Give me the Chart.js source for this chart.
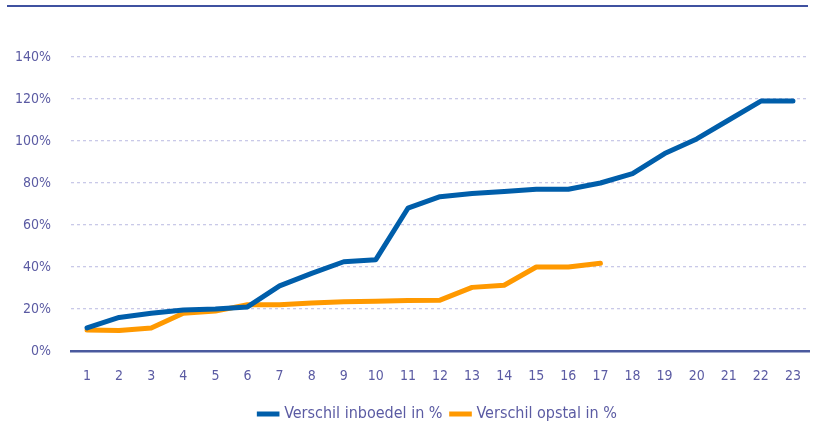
<!DOCTYPE html>
<html>
<head>
<meta charset="utf-8">
<script src="https://cdn.jsdelivr.net/npm/chart.js@4"></script>
<style>
  html, body { margin: 0; padding: 0; background: #fff; }
  #wrap { position: relative; width: 813px; height: 427px; }
  #rule { position: absolute; left: 7px; top: 5px; width: 801px; height: 2px; background: #3f51a0; }
  canvas { position: absolute; left: 0; top: 0; }
</style>
</head>
<body>
<div id="wrap">
  <div id="rule"></div>
  <canvas id="lineChart" width="813" height="427"></canvas>
</div>
<script>
  // data
  const categories = ['1','2','3','4','5','6','7','8','9','10','11','12','13','14','15','16','17','18','19','20','21','22','23'];
  const inboedel = [11, 16, 18, 19.5, 20, 21, 31, 37, 42.5, 43.5, 68, 73.5, 75, 76, 77, 77, 80, 84.5, 94, 101, 110, 119, 119];
  const opstal = [10, 9.8, 11, 18, 19, 22, 22, 22.8, 23.5, 23.7, 24, 24.2, 30.3, 31.3, 40, 40, 41.8];
  const yTicks = [0, 20, 40, 60, 80, 100, 120, 140];

  const textColor = '#5b5ba3';
  const fontFamily = '"Liberation Sans Narrow", "DejaVu Sans Condensed", sans-serif';

  // nudge the legend a little lower and to the right, as in the original
  const legendShift = {
    id: 'legendShift',
    afterLayout(chart) {
      chart.legend.top += 5;
      chart.legend.bottom += 5;
      chart.legend.left += 34;
      chart.legend.right += 34;
    }
  };

  const lineData = {
    labels: categories,
    datasets: [{
      label: 'Verschil inboedel in %',
      data: inboedel,
      borderColor: '#005eaa',
      backgroundColor: '#005eaa',
      borderWidth: 5,
      borderCapStyle: 'round',
      borderJoinStyle: 'round',
      pointRadius: 0,
      tension: 0
    }, {
      label: 'Verschil opstal in %',
      data: opstal,
      borderColor: '#ff9900',
      backgroundColor: '#ff9900',
      borderWidth: 5,
      borderCapStyle: 'round',
      borderJoinStyle: 'round',
      pointRadius: 0,
      tension: 0
    }]
  };

  const lineChartconfig = {
    type: 'line',
    data: lineData,
    plugins: [legendShift],
    options: {
      responsive: false,
      animation: false,
      layout: { padding: { left: 0, right: 4, top: 57, bottom: 0 } },
      plugins: {
        tooltip: { enabled: false },
        legend: {
          position: 'bottom',
          labels: {
            usePointStyle: true,
            pointStyle: 'line',
            boxWidth: 24,
            padding: 10,
            color: textColor,
            font: { family: fontFamily, size: 16 }
          }
        }
      },
      scales: {
        x: {
          offset: true,
          grid: { display: false },
          border: { display: true, color: '#4a5a9e', width: 2.5 },
          ticks: {
            color: textColor,
            padding: 9,
            maxRotation: 0,
            autoSkip: false,
            font: { family: fontFamily, size: 14 }
          },
          afterFit: (scale) => { scale.height = 40; }
        },
        y: {
          min: 0,
          max: 140,
          afterBuildTicks: (scale) => { scale.ticks = yTicks.map(v => ({ value: v })); },
          grid: {
            color: '#c9c9e8',
            lineWidth: 1.3,
            drawTicks: false
          },
          border: { display: false, dash: [3, 3] },
          ticks: {
            color: textColor,
            padding: 20,
            font: { family: fontFamily, size: 14 },
            callback: (v) => v + '%'
          },
          afterFit: (scale) => { scale.width = 71; }
        }
      }
    }
  };

  const lineChart = new Chart(
    document.getElementById('lineChart'),
    lineChartconfig
  );
</script>
</body>
</html>
